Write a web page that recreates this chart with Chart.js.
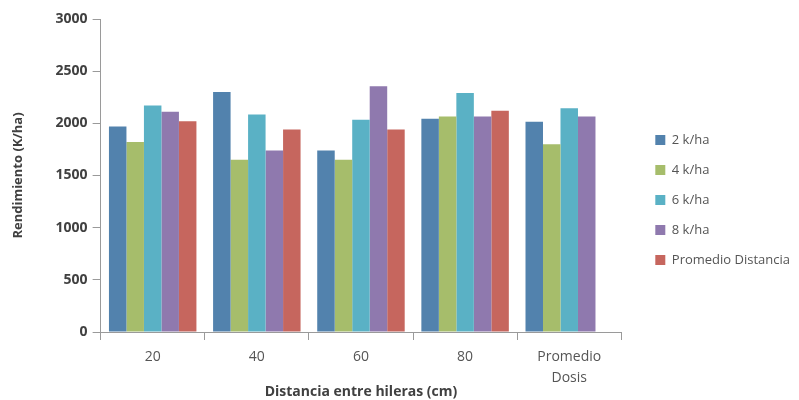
<!DOCTYPE html>
<html>
<head>
<meta charset="utf-8">
<script src="https://cdn.jsdelivr.net/npm/chart.js@4.4.1/dist/chart.umd.min.js"></script>
<style>
  html, body { margin: 0; padding: 0; background: #ffffff; }
  #wrap { width: 799px; height: 400px; position: relative; }
</style>
</head>
<body>
<div id="wrap"><canvas id="chart" width="799" height="400"></canvas></div>
<script>
// Row spacing categories (cm) and yield per seeding dose
const categories = ['20', '40', '60', '80', ['Promedio', 'Dosis']];
const seriesNames = ['2 k/ha', '4 k/ha', '6 k/ha', '8 k/ha', 'Promedio Distancia'];
const dose2 = [1970, 2300, 1740, 2045, 2015];
const dose4 = [1820, 1650, 1650, 2065, 1800];
const dose6 = [2170, 2085, 2035, 2290, 2145];
const dose8 = [2110, 1740, 2355, 2065, 2065];
const promedioDistancia = [2020, 1940, 1940, 2120, null];
const yTicks = [0, 500, 1000, 1500, 2000, 2500, 3000];

const colors = ['#5282ad', '#a6bd6b', '#5ab1c5', '#8f79ae', '#c6665e'];
const values = [dose2, dose4, dose6, dose8, promedioDistancia];

const fontFamily = "'Open Sans', 'Noto Sans', sans-serif";

// Centre the legend on the full canvas height and nudge it toward the right edge
const legendPlacement = {
  id: 'legendPlacement',
  afterLayout(chart) {
    const l = chart.legend;
    if (!l) return;
    const shiftX = 17;
    l.left += shiftX;
    l.right += shiftX;
    l.top = 0;
    l.bottom = chart.height;
  }
};

new Chart(document.getElementById('chart'), {
  type: 'bar',
  data: {
    labels: categories,
    datasets: seriesNames.map((name, i) => ({
      label: name,
      data: values[i],
      backgroundColor: colors[i],
      borderWidth: 0,
      barPercentage: 1.0,
      categoryPercentage: 0.84
    }))
  },
  plugins: [legendPlacement],
  options: {
    responsive: false,
    animation: false,
    devicePixelRatio: 1,
    layout: { padding: { top: 19, right: 16, left: 10, bottom: 0 } },
    plugins: {
      tooltip: { enabled: false },
      legend: {
        position: 'right',
        align: 'center',
        labels: {
          boxWidth: 10,
          boxHeight: 10,
          padding: 17,
          color: '#555555',
          font: { family: fontFamily, size: 13 }
        }
      }
    },
    scales: {
      x: {
        // fixed band below the plot for tick labels and axis title
        afterFit: (scale) => { scale.height = 68; },
        grid: {
          display: true,
          drawOnChartArea: false,
          drawTicks: true,
          tickLength: 8,
          color: '#9a9a9a',
          offset: true
        },
        border: { display: true, color: '#9a9a9a', width: 1 },
        ticks: {
          color: '#555555',
          font: { family: fontFamily, size: 14, lineHeight: 1.5 },
          padding: 7
        },
        title: {
          display: true,
          text: 'Distancia entre hileras (cm)',
          color: '#404040',
          font: { family: fontFamily, size: 14, weight: 'bold' },
          padding: { top: 0, bottom: 0 }
        }
      },
      y: {
        min: 0,
        max: 3000,
        afterBuildTicks: (axis) => { axis.ticks = yTicks.map(v => ({ value: v })); },
        grid: {
          display: true,
          drawOnChartArea: false,
          drawTicks: true,
          tickLength: 8,
          color: '#9a9a9a'
        },
        border: { display: true, color: '#9a9a9a', width: 1 },
        ticks: {
          color: '#404040',
          font: { family: fontFamily, size: 14, weight: 'bold' },
          padding: 5,
          callback: (v) => String(v)
        },
        title: {
          display: true,
          text: 'Rendimiento (K/ha)',
          color: '#404040',
          font: { family: fontFamily, size: 13, weight: 'bold' },
          padding: { top: 0, bottom: 25 }
        }
      }
    }
  }
});
</script>
</body>
</html>
